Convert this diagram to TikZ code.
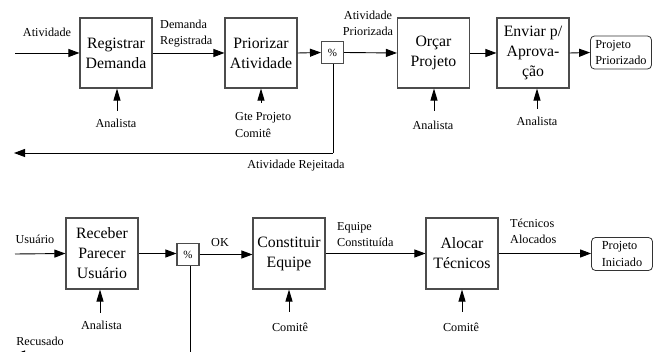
\documentclass[tikz,border=0pt]{standalone}
\usepackage{fontspec}
\setmainfont{Liberation Serif}
\usetikzlibrary{arrows.meta}
\begin{document}
\begin{tikzpicture}[x=1pt,y=-1pt,
  proc/.style={draw=black!70,line width=1.1pt,minimum width=72pt,minimum height=70pt,inner sep=0pt,align=center,font=\fontsize{15.8}{20}\selectfont},
  pct/.style={draw=black!70,line width=1.1pt,minimum width=22pt,minimum height=22pt,inner sep=0pt,font=\fontsize{11}{13}\selectfont},
  term/.style={draw=black!80,line width=0.8pt,rounded corners=4pt,minimum width=61pt,minimum height=33pt,inner sep=2pt,align=left,font=\fontsize{12.3}{16.5}\selectfont},
  lbl/.style={inner sep=0pt,align=center,font=\fontsize{12.2}{16.5}\selectfont},
  lbll/.style={inner sep=0pt,align=left,font=\fontsize{12.2}{16.5}\selectfont},
  flow/.style={line width=0.9pt,-{Triangle[length=11pt,width=8pt]}},
  ctl/.style={line width=0.9pt,-{Triangle[length=12pt,width=7pt]}},
  line/.style={line width=0.9pt}]
\useasboundingbox (0,0) rectangle (658,352);
\clip (0,0) rectangle (658,352);
% top row
\node[proc] (b1) at (116,53) {Registrar\\Demanda};
\node[proc] (b2) at (261,53) {Priorizar\\Atividade};
\node[pct] (p1) at (332.5,52.5) {\%};
\node[proc] (b3) at (433.5,53) {Orçar\\Projeto};
\node[proc] (b4) at (533,53) {Enviar p/\\Aprova-\\ção};
\node[term] (t1) at (621,52.5) {Projeto\\Priorizado};
\coordinate (in1) at (15,53);
\draw[flow] (in1) -- (b1.west);
\draw[flow] (b1.east) -- (b2.west);
\draw[flow] (b2.east) -- (p1.west);
\draw[flow] (p1.east) -- (b3.west);
\draw[flow] (b3.east) -- (b4.west);
\draw[flow] (b4.east) -- (t1.west);
\coordinate (rj) at (333,153);
\coordinate (rjend) at (14,153);
\draw[line] (p1.south -| rj) -- (rj);
\draw[flow] (rj) -- (rjend);
\node[lbl] (l1) at (47,32) {Atividade};
\node[lbll,anchor=west] (l2) at (160,33.5) {Demanda\\Registrada};
\node[lbl] (l3) at (368,23.5) {Atividade\\Priorizada};
\node[lbl] (l4) at (296,166) {Atividade Rejeitada};
\node[lbl] (a1) at (116,123) {Analista};
\node[lbll,anchor=west] (a2) at (235,125) {Gte Projeto\\Comitê};
\node[lbl] (a3) at (433,125) {Analista};
\node[lbl] (a4) at (537,121) {Analista};
\coordinate (c1) at (117,111);
\coordinate (c2) at (261,103);
\coordinate (c3) at (434,111);
\coordinate (c4) at (537,109);
\draw[ctl] (c1) -- (c1 |- b1.south);
\draw[ctl] (c2) -- (c2 |- b2.south);
\draw[ctl] (c3) -- (c3 |- b3.south);
\draw[ctl] (c4) -- (c4 |- b4.south);
% bottom row
\node[proc,minimum height=71pt] (b5) at (102,253.5) {Receber\\Parecer\\Usuário};
\node[pct] (p2) at (188,254.5) {\%};
\node[proc,minimum height=71pt] (b6) at (289,253.5) {Constituir\\Equipe};
\node[proc,minimum height=71pt] (b7) at (462,253.5) {Alocar\\Técnicos};
\node[term] (t2) at (622,254) {Projeto\\Iniciado};
\coordinate (in2) at (15,254);
\draw[flow] (in2) -- (b5.west);
\draw[flow] (b5.east) -- (b5.east -| p2.west);
\draw[flow] (p2.east) -- (p2.east -| b6.west);
\draw[flow] (b6.east) -- (b6.east -| b7.west);
\draw[flow] (b7.east) -- (b7.east -| t2.west);
\coordinate (rc) at (190,354.5);
\coordinate (rcend) at (14,354.5);
\draw[line] (p2.south -| rc) -- (rc);
\draw[flow] (rc) -- (rcend);
\node[lbl] (l5) at (35,239) {Usuário};
\node[lbl] (l6) at (220,243) {OK};
\node[lbll,anchor=west] (l7) at (337,234.5) {Equipe\\Constituída};
\node[lbll,anchor=west] (l8) at (510,231.5) {Técnicos\\Alocados};
\node[lbl] (l9) at (40,341) {Recusado};
\node[lbl] (a5) at (101.5,325) {Analista};
\node[lbl] (a6) at (290,327) {Comitê};
\node[lbl] (a7) at (461,327) {Comitê};
\coordinate (c5) at (100,313);
\coordinate (c6) at (289,312);
\coordinate (c7) at (462,312);
\draw[ctl] (c5) -- (c5 |- b5.south);
\draw[ctl] (c6) -- (c6 |- b6.south);
\draw[ctl] (c7) -- (c7 |- b7.south);
\end{tikzpicture}
\end{document}
